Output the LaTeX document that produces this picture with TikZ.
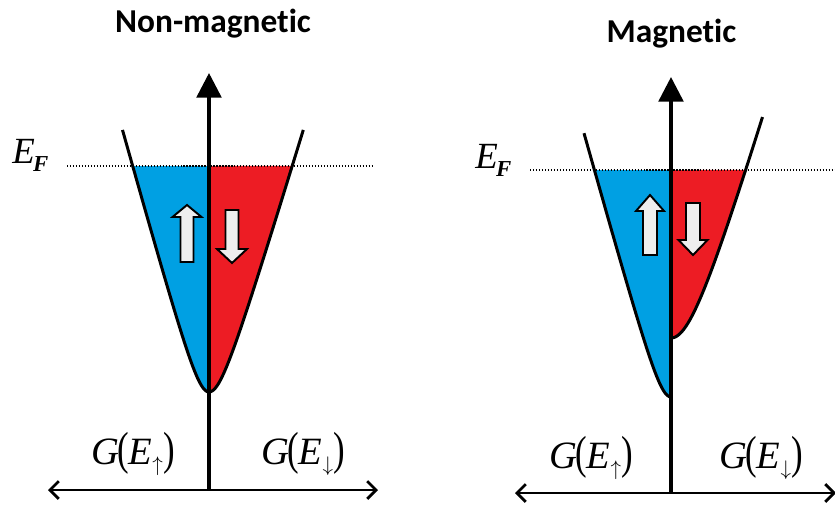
\documentclass[tikz,border=0pt]{standalone}
\usepackage{fontspec}
\usepackage{graphicx}
\setmainfont{Liberation Serif}
\newfontfamily\ttlfont[Ligatures=NoCommon]{Carlito}
\usetikzlibrary{arrows.meta}

\definecolor{upblue}{RGB}{0,160,227}
\definecolor{dnred}{RGB}{237,28,36}
\definecolor{spingray}{RGB}{238,238,238}

\newcommand{\tallpar}[1]{\scalebox{0.9}[1.2]{#1}}
\newcommand{\gspin}[1]{\textit{G}\kern-1pt\tallpar{(}\kern-0.5pt\textit{E}\kern0.3pt\raisebox{-4pt}{\fontsize{12}{12}\selectfont$#1$}\kern0.5pt\tallpar{)}}
\newcommand{\efermi}{\textit{E}\kern-1pt\raisebox{-5pt}{\fontsize{13}{13}\selectfont\bfseries\itshape F}}

\begin{document}
\begin{tikzpicture}[
		x=0.02cm, y=-0.02cm,
		declare function={hyp(\du,\ha,\hb)=\ha*(sqrt(1+(\du/\hb)^2)-1);},
		up/.style	= {fill=upblue},
		dn/.style	= {fill=dnred},
		band/.style	= {line width=1.7pt, line join=round},
		vax/.style	= {line width=2pt, -{Triangle[width=14pt,length=14pt]}},
		hax/.style	= {line width=1.6pt, {Straight Barb[length=5pt,width=10pt]}-{Straight Barb[length=5pt,width=10pt]}},
		ef/.style	= {line width=0.6pt, dash pattern=on 0.7pt off 1pt},
		sp/.style	= {draw, line width=1.1pt, fill=spingray, line join=miter},
		ttl/.style	= {font=\ttlfont\bfseries\fontsize{19}{22}\selectfont, inner sep=0, anchor=base},
		lbl/.style	= {font=\fontsize{22}{24}\selectfont, inner sep=0, anchor=base},
		efl/.style	= {font=\fontsize{21}{24}\selectfont, inner sep=0, anchor=base west}
		]
		\useasboundingbox (0,0) rectangle (835,504);
		
		% === === Non-magnetic === ===
		\fill[up]	(209,166) -- plot[domain=76.3:0, samples=60] ({209-\x},{392-hyp(\x,54,15)}) -- cycle;
		\fill[dn]	(209,166) -- plot[domain=83.2:0, samples=60] ({209+\x},{392-hyp(\x,54,16.35)}) -- cycle;
		\draw[band]	plot[domain=86.5:0, samples=60] ({209-\x},{392-hyp(\x,54,15)})
					-- plot[domain=0:94.3, samples=60] ({209+\x},{392-hyp(\x,54,16.35)});
		
		\coordinate	(o-nm)		at	(209,490);
		\coordinate	(top-nm)	at	(209,73);
		\coordinate	(l-nm)		at	(48,490);
		\coordinate	(r-nm)		at	(378,490);
		\coordinate	(efa-nm)	at	(67,166);
		\coordinate	(efb-nm)	at	(372,166);
		
		\draw[ef]	(efa-nm)	--	(efb-nm);
		\draw[vax]	(o-nm)		--	(top-nm);
		\draw[hax]	(l-nm)		--	(r-nm);
		
		\draw[sp]	(187,205) -- (201.5,217) -- (193.5,217) -- (193.5,262) -- (180.5,262) -- (180.5,217) -- (172.5,217) -- cycle;
		\draw[sp]	(232,263) -- (247,249) -- (238.5,249) -- (238.5,210) -- (225.5,210) -- (225.5,249) -- (217,249) -- cycle;
		
		\node[ttl]	(ttl-nm)	at	(213,32)	{Non-magnetic};
		\node[efl]	(ef-nm)		at	(12,163)	{\efermi};
		\node[lbl]	(gup-nm)	at	(133.5,464)	{\gspin{\uparrow}};
		\node[lbl]	(gdn-nm)	at	(303.5,464)	{\gspin{\downarrow}};
		
		% === === Magnetic === ===
		\fill[up]	(671,170) -- plot[domain=76.6:0, samples=60] ({671-\x},{397-hyp(\x,54,15)}) -- cycle;
		\fill[dn]	(671,170) -- plot[domain=74.6:0, samples=60] ({671+\x},{338-hyp(\x,100,30)}) -- cycle;
		\draw[band]	plot[domain=87:0, samples=60] ({671-\x},{397-hyp(\x,54,15)});
		\draw[band]	plot[domain=0:91.5, samples=60] ({671+\x},{338-hyp(\x,100,30)});
		
		\coordinate	(o-m)		at	(671,493);
		\coordinate	(top-m)		at	(671,77);
		\coordinate	(l-m)		at	(515,493);
		\coordinate	(r-m)		at	(836,493);
		\coordinate	(efa-m)		at	(530,170);
		\coordinate	(efb-m)		at	(835,170);
		
		\draw[ef]	(efa-m)		--	(efb-m);
		\draw[vax]	(o-m)		--	(top-m);
		\draw[hax]	(l-m)		--	(r-m);
		
		\draw[sp]	(650,195) -- (664,211) -- (657,211) -- (657,255) -- (643,255) -- (643,211) -- (636,211) -- cycle;
		\draw[sp]	(693,255) -- (707.5,240) -- (700,240) -- (700,203) -- (686,203) -- (686,240) -- (678.5,240) -- cycle;
		
		\node[ttl]	(ttl-m)		at	(671.5,42)	{Magnetic};
		\node[efl]	(ef-m)		at	(475,168)	{\efermi};
		\node[lbl]	(gup-m)		at	(591.5,468)	{\gspin{\uparrow}};
		\node[lbl]	(gdn-m)		at	(761.5,468)	{\gspin{\downarrow}};
		
	\end{tikzpicture}
\end{document}
